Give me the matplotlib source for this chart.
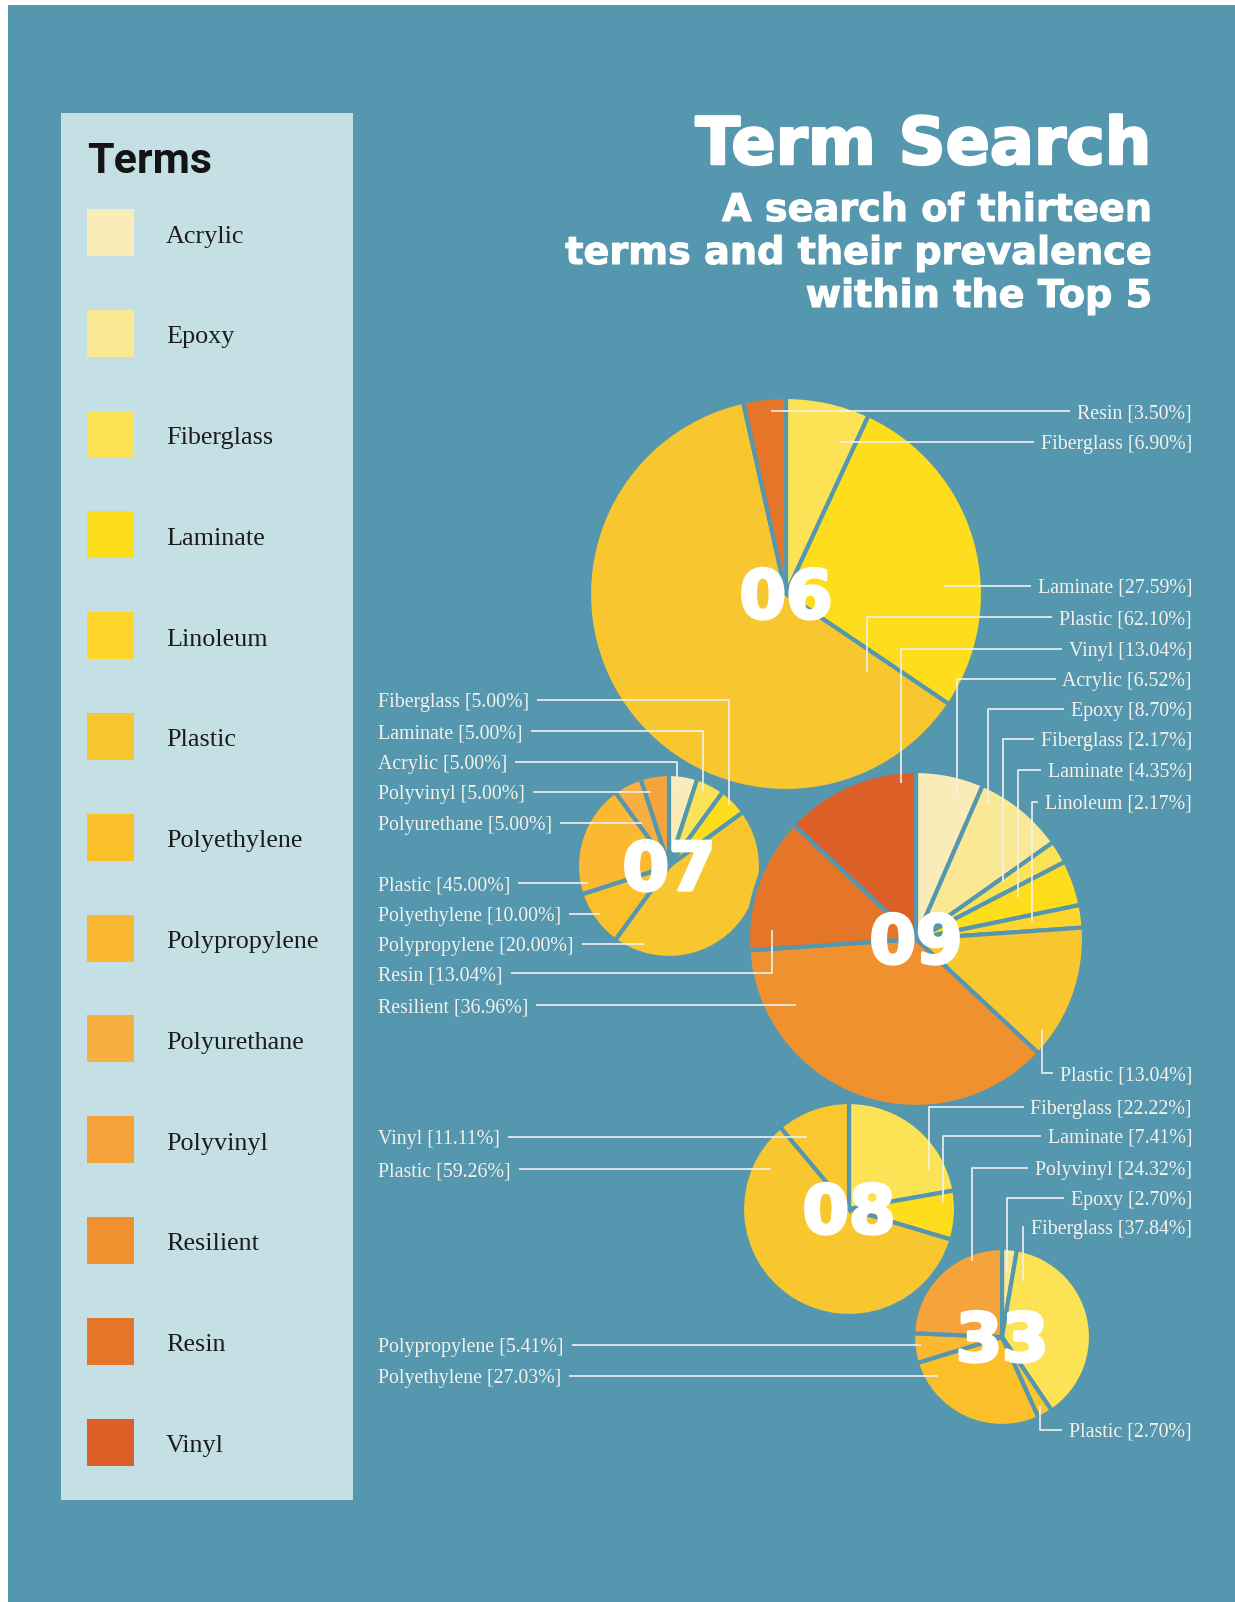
import matplotlib
matplotlib.use("Agg")
import matplotlib.pyplot as plt
import matplotlib.patheffects as pe
from matplotlib.patches import Rectangle

W, H = 1235, 1602
BG = "#5697b0"
PANEL = "#c5e0e4"
LINE = "#f1f1ee"

# the thirteen terms and their colours
terms = ["Acrylic", "Epoxy", "Fiberglass", "Laminate", "Linoleum", "Plastic",
         "Polyethylene", "Polypropylene", "Polyurethane", "Polyvinyl",
         "Resilient", "Resin", "Vinyl"]
term_colors = ["#f9ecb9", "#fae894", "#fbe355", "#fedd1c", "#fdd52b", "#f8c72f",
               "#fbbf29", "#fbb832", "#f6af40", "#f5a43b", "#f0912f", "#e57528",
               "#dc5f27"]
color_of = dict(zip(terms, term_colors))

# one pie per listing, slices clockwise from 12 o'clock
terms_06 = ["Fiberglass", "Laminate", "Plastic", "Resin"]
share_06 = [6.90, 27.59, 62.10, 3.50]
terms_07 = ["Acrylic", "Fiberglass", "Laminate", "Plastic", "Polyethylene",
            "Polypropylene", "Polyurethane", "Polyvinyl"]
share_07 = [5.00, 5.00, 5.00, 45.00, 10.00, 20.00, 5.00, 5.00]
terms_09 = ["Acrylic", "Epoxy", "Fiberglass", "Laminate", "Linoleum", "Plastic",
            "Resilient", "Resin", "Vinyl"]
share_09 = [6.52, 8.70, 2.17, 4.35, 2.17, 13.04, 36.96, 13.04, 13.04]
terms_08 = ["Fiberglass", "Laminate", "Plastic", "Vinyl"]
share_08 = [22.22, 7.41, 59.26, 11.11]
terms_33 = ["Epoxy", "Fiberglass", "Plastic", "Polyethylene", "Polypropylene",
            "Polyvinyl"]
share_33 = [2.70, 37.84, 2.70, 27.03, 5.41, 24.32]

pies = {"06": (terms_06, share_06), "07": (terms_07, share_07),
        "09": (terms_09, share_09), "08": (terms_08, share_08),
        "33": (terms_33, share_33)}
# the original shows the 08 vinyl slice in yellow
color_fix = {("08", "Vinyl"): "#fbc72e"}

# pie centre and radius in pixels
pie_pos = {"06": (786, 594, 197), "07": (669, 866, 92), "09": (916, 939, 168),
           "08": (849, 1209, 107), "33": (1002, 1337, 89)}

# leader lines: term, side, line y, anchor offset from centre (dy None = straight)
leaders = {
    "06": [("Resin", "r", 411, -15, None), ("Fiberglass", "r", 442, 54, None),
           ("Laminate", "r", 586, 158, None), ("Plastic", "r", 617, 81, 78)],
    "09": [("Vinyl", "r", 649, -15, -156), ("Acrylic", "r", 679, 41, -146),
           ("Epoxy", "r", 709, 72, -135), ("Fiberglass", "r", 739, 87, -57),
           ("Laminate", "r", 770, 102, -42), ("Linoleum", "r", 802, 116, -17),
           ("Plastic", "r", 1073, 126, 91),
           ("Resin", "l", 973, -144, -9), ("Resilient", "l", 1005, -120, None)],
    "07": [("Fiberglass", "l", 700, 60, -61), ("Laminate", "l", 731, 34, -75),
           ("Acrylic", "l", 762, 8, -79), ("Polyvinyl", "l", 792, -18, None),
           ("Polyurethane", "l", 823, -27, None), ("Plastic", "l", 883, -81, None),
           ("Polyethylene", "l", 914, -69, None),
           ("Polypropylene", "l", 944, -25, None)],
    "08": [("Fiberglass", "r", 1107, 80, -39), ("Laminate", "r", 1136, 94, -6),
           ("Vinyl", "l", 1137, -42, None), ("Plastic", "l", 1169, -78, None)],
    "33": [("Polyvinyl", "r", 1168, -30, -76), ("Epoxy", "r", 1198, 5, -66),
           ("Fiberglass", "r", 1227, 21, -56), ("Plastic", "r", 1430, 38, 69),
           ("Polypropylene", "l", 1345, -81, None),
           ("Polyethylene", "l", 1376, -64, None)],
}

fig = plt.figure(figsize=(W / 100, H / 100), dpi=100)
fig.patch.set_facecolor("white")
ax = fig.add_axes([0, 0, 1, 1])

ax.add_patch(Rectangle((8, 5), W - 8, H - 5, facecolor=BG, edgecolor="none", zorder=0))
ax.add_patch(Rectangle((61, 113), 292, 1387, facecolor=PANEL, edgecolor="none", zorder=1))

# legend panel
ax.text(87, 173, "Terms", fontsize=31, fontweight="bold", color="#141414",
        family=["Roboto", "DejaVu Sans"], ha="left", va="baseline", zorder=2)
for i, (t, c) in enumerate(zip(terms, term_colors)):
    top = 209 + i * 100.8
    ax.add_patch(Rectangle((87, top), 47, 47, facecolor=c, edgecolor="none", zorder=2))
    ax.text(166, top + 23.5 + 10, t, fontsize=18.8, color="#1c1c1c",
            family=["Liberation Serif", "DejaVu Serif"], ha="left", va="baseline", zorder=2)

# titles
heavy = [pe.withStroke(linewidth=1.8, foreground="white")]
ax.text(1151, 164, "Term Search", fontsize=47, fontweight="bold", color="white",
        family="DejaVu Sans", ha="right", va="baseline", path_effects=heavy, zorder=2)
for y, line in zip([221, 264, 307], ["A search of thirteen",
                                     "terms and their prevalence",
                                     "within the Top 5"]):
    ax.text(1153, y, line, fontsize=27.5, fontweight="bold", color="white",
            family="DejaVu Sans", ha="right", va="baseline",
            path_effects=[pe.withStroke(linewidth=0.8, foreground="white")], zorder=2)

# pies
for name, (t, s) in pies.items():
    cx, cy, r = pie_pos[name]
    cols = [color_fix.get((name, x), color_of[x]) for x in t]
    ax.pie(s, colors=cols, center=(cx, cy), radius=r, startangle=-90,
           counterclock=True, frame=False,
           wedgeprops=dict(edgecolor=BG, linewidth=3.0, zorder=2))

ax.set_xlim(0, W)
ax.set_ylim(H, 0)
ax.set_aspect("equal")
ax.axis("off")

renderer = fig.canvas.get_renderer()
inv = ax.transData.inverted()
lab_font = dict(fontsize=14.3, color="#f4f2ea",
                family=["Liberation Serif", "DejaVu Serif"], va="baseline", zorder=5)
for name, items in leaders.items():
    cx, cy, r = pie_pos[name]
    t, s = pies[name]
    for term, side, ly, dx, dy in items:
        label = f"{term} [{s[t.index(term)]:.2f}%]"
        if side == "r":
            txt = ax.text(1192, ly + 7, label, ha="right", **lab_font)
        else:
            txt = ax.text(378, ly + 7, label, ha="left", **lab_font)
        bb = txt.get_window_extent(renderer)
        x0 = inv.transform((bb.x0, bb.y0))[0]
        x1 = inv.transform((bb.x1, bb.y0))[0]
        end = x0 - 7 if side == "r" else x1 + 8
        ax_ = cx + dx
        ay = ly if dy is None else cy + dy
        xs, ys = [ax_, ax_, end], [ay, ly, ly]
        ax.plot(xs, ys, color=LINE, lw=1.2, solid_capstyle="butt", zorder=3)

# listing numbers in the middle of each pie
for name in pies:
    cx, cy, r = pie_pos[name]
    ax.text(cx, cy + 24, name, fontsize=48, fontweight="bold", color="white",
            family="DejaVu Sans", ha="center", va="baseline",
            path_effects=[pe.withStroke(linewidth=2.5, foreground="white")], zorder=6)

fig.savefig("out.png", dpi=100, facecolor=fig.get_facecolor())
